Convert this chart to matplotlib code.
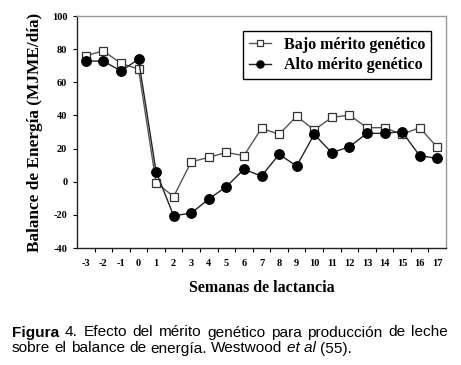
import matplotlib
matplotlib.use("Agg")
import matplotlib.pyplot as plt
import numpy as np

weeks = [-3, -2, -1, 0, 1, 2, 3, 4, 5, 6, 7, 8, 9, 10, 11, 12, 13, 14, 15, 16, 17]
bajo = [76, 79, 71.4, 68, -0.5, -9, 12, 14.7, 17.7, 15.7, 32.2, 28.6, 39.5, 31.2, 38.8, 40.2, 32.6, 32.6, 28.6, 32.6, 20.8]
alto = [72.8, 72.8, 66.8, 73.9, 6, -20.5, -19, -10.4, -3, 7.5, 3.4, 16.5, 9.5, 28.6, 17.5, 21.1, 29.2, 29.2, 30.2, 15.7, 14.1]
yticks = [-40, -20, 0, 20, 40, 60, 80, 100]
label_bajo = "Bajo mérito genético"
label_alto = "Alto mérito genético"

W, H = 461, 365
fig = plt.figure(figsize=(W / 100, H / 100), dpi=100)
ax = fig.add_axes([77 / W, 1 - 248 / H, (446 - 77) / W, (248 - 16) / H])

serif = "Liberation Serif"
ax.plot(weeks, bajo, color="#555555", lw=1.0, marker="s", ms=6, mfc="white",
        mec="#333333", mew=0.9, label=label_bajo, zorder=3)
ax.plot(weeks, alto, color="#222222", lw=1.0, marker="o", ms=6.8, mfc="black",
        mec="black", label=label_alto, zorder=4)

ax.set_xlim(-3.5, 17.5)
ax.set_ylim(-40, 100)
ax.set_yticks(yticks)
ax.set_yticklabels([str(v) for v in yticks], fontfamily=serif, fontweight="bold", fontsize=7.5)
ax.set_xticks(weeks)
ax.set_xticklabels([str(w) for w in weeks], fontfamily=serif, fontweight="bold", fontsize=7.5)
ax.tick_params(axis="x", which="major", length=0, pad=8)
ax.set_xticks(np.arange(-2.5, 17.5, 1.0), minor=True)
ax.tick_params(axis="x", which="minor", length=3, width=0.8, direction="out")
ax.tick_params(axis="y", length=3, width=0.8, direction="out", pad=4)
for s in ["top", "right"]:
    ax.spines[s].set_color("#999999")
    ax.spines[s].set_linewidth(1.0)
for s in ["left", "bottom"]:
    ax.spines[s].set_color("#222222")
    ax.spines[s].set_linewidth(1.0)

fig.text(35 / W, 1 - 132 / H, "Balance de Energía (MJME/día)", rotation=90,
         ha="center", va="center", fontfamily=serif, fontweight="bold", fontsize=12.4)
fig.text(262 / W, 1 - 288 / H, "Semanas de lactancia", ha="center", va="center",
         fontfamily=serif, fontweight="bold", fontsize=11.5)

leg = ax.legend(loc="upper left", bbox_to_anchor=((243 - 77) / (446 - 77), 1 - (31 - 16) / 232),
                frameon=True, fancybox=False, edgecolor="black", framealpha=1,
                prop={"family": serif, "weight": "bold", "size": 11.5},
                handlelength=1.4, handletextpad=0.8, borderpad=0.35, labelspacing=0.3,
                borderaxespad=0, markerscale=0.75)
leg.get_frame().set_linewidth(1.0)

# caption
sans = "Liberation Sans"
fs = 11.1
renderer = fig.canvas.get_renderer()

def draw_words(words, x0, x1, ybase, justify):
    objs = []
    for w, st in words:
        t = fig.text(0, ybase, w, fontfamily=sans, fontsize=fs, va="baseline", ha="left",
                     fontweight="bold" if st == "b" else "normal",
                     fontstyle="italic" if st == "i" else "normal")
        objs.append(t)
    widths = [t.get_window_extent(renderer).width for t in objs]
    space = fig.text(0, 0, "a a", fontfamily=sans, fontsize=fs)
    sp_w = space.get_window_extent(renderer).width
    a = fig.text(0, 0, "aa", fontfamily=sans, fontsize=fs)
    sp_w -= a.get_window_extent(renderer).width
    space.remove(); a.remove()
    if justify:
        gap = (x1 - x0 - sum(widths)) / (len(objs) - 1)
    else:
        gap = sp_w
    x = x0
    for t, wd in zip(objs, widths):
        t.set_x(x / W)
        x += wd + gap

line1 = [("Figura", "b"), ("4.", "n"), ("Efecto", "n"), ("del", "n"), ("mérito", "n"),
         ("genético", "n"), ("para", "n"), ("producción", "n"), ("de", "n"), ("leche", "n")]
line2 = [("sobre", "n"), ("el", "n"), ("balance", "n"), ("de", "n"), ("energía.", "n"),
         ("Westwood", "n"), ("et al", "i"), ("(55).", "n")]
draw_words(line1, 12, 448, 1 - 336.5 / H, True)
draw_words(line2, 12, 448, 1 - 352.5 / H, False)

fig.savefig("out.png", dpi=100)
